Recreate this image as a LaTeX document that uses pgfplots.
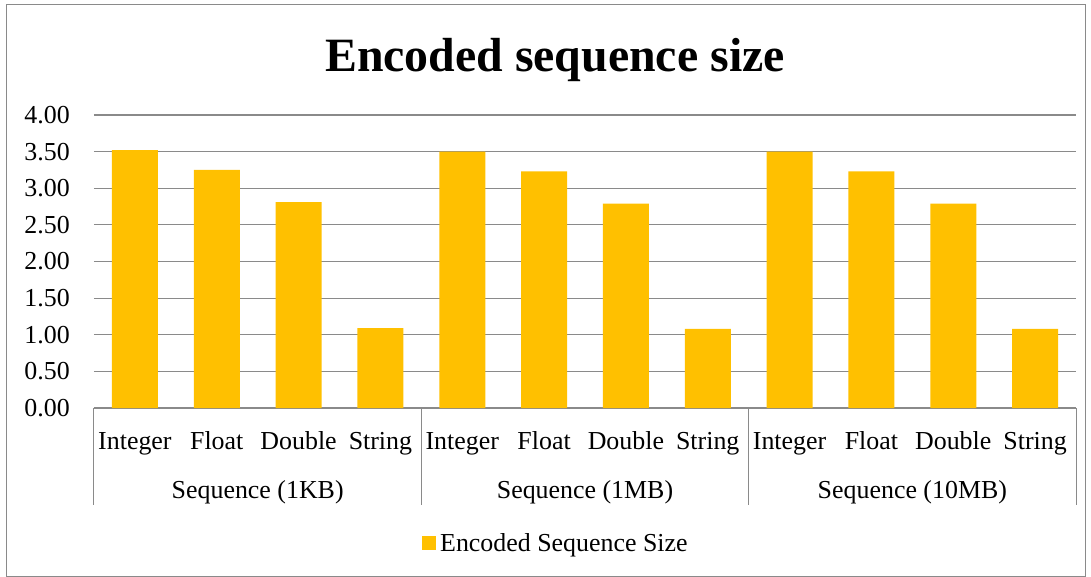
\documentclass[border=0pt]{standalone}
\usepackage{pgfplots}
\pgfplotsset{compat=1.18}
\usepackage{fontspec}
\setmainfont{Liberation Serif}
\definecolor{barfill}{HTML}{FFC000}
\definecolor{gridgray}{HTML}{8A8A8A}
\definecolor{framegray}{HTML}{8A8A8A}
\begin{document}
\begin{tikzpicture}
\useasboundingbox (-94bp,-169bp) rectangle (997bp,408bp);
\draw[framegray, line width=1bp] (-87bp,-168.5bp) rectangle (991bp,403bp);
\begin{axis}[
  at={(0,0)}, anchor=south west,
  scale only axis,
  width=982bp, height=293bp,
  xmin=-0.5, xmax=11.5,
  ymin=0, ymax=4,
  ytick={0,0.5,...,4},
  xtick={0,1,...,11},
  xticklabels={Integer,Float,Double,String,Integer,Float,Double,String,Integer,Float,Double,String},
  major tick length=0pt,
  axis x line*=bottom,
  axis y line*=left,
  y axis line style={draw=none},
  x axis line style={gridgray, line width=1.2bp},
  ymajorgrids,
  grid style={gridgray, line width=1.2bp},
  /pgf/number format/.cd, fixed, fixed zerofill, precision=2, assume math mode=true,
  /pgfplots/.cd,
  tick label style={font=\fontsize{26}{31}\selectfont},
  yticklabel style={anchor=east, inner sep=0pt, xshift=-24bp},
  xticklabel style={anchor=base, inner sep=0pt, yshift=-41bp},
  clip=false,
  legend style={draw=none, fill=none, at={(0.334,-0.461)}, anchor=west,
    font=\fontsize{26}{31}\selectfont, inner sep=0pt,
    nodes={inner sep=2bp}},
  legend image code/.code={\fill[#1] (0bp,-7bp) rectangle (14bp,7bp);},
  legend style={/tikz/every even column/.append style={column sep=0bp}},
  legend style={nodes={inner xsep=4bp}},
]
\addplot[ybar, bar width=46bp, fill=barfill, draw=none] coordinates {
  (0,3.52) (1,3.25) (2,2.81) (3,1.09)
  (4,3.50) (5,3.23) (6,2.79) (7,1.08)
  (8,3.50) (9,3.23) (10,2.79) (11,1.08)
};
\addlegendentry{Encoded Sequence Size}
% group separators below the category axis
\pgfplotsinvokeforeach{-0.5,3.5,7.5,11.5}{
  \draw[gridgray, line width=1bp] (axis cs:#1,0) -- ([yshift=-97bp]axis cs:#1,0);
}
% group names
\node[anchor=base, font=\fontsize{26}{31}\selectfont] at ([yshift=-90bp]axis cs:1.5,0) {Sequence (1KB)};
\node[anchor=base, font=\fontsize{26}{31}\selectfont] at ([yshift=-90bp]axis cs:5.5,0) {Sequence (1MB)};
\node[anchor=base, font=\fontsize{26}{31}\selectfont] at ([yshift=-90bp]axis cs:9.5,0) {Sequence (10MB)};
\end{axis}
\node[font=\bfseries\fontsize{48}{56}\selectfont] at (461bp,348bp) {Encoded sequence size};
\end{tikzpicture}
\end{document}
